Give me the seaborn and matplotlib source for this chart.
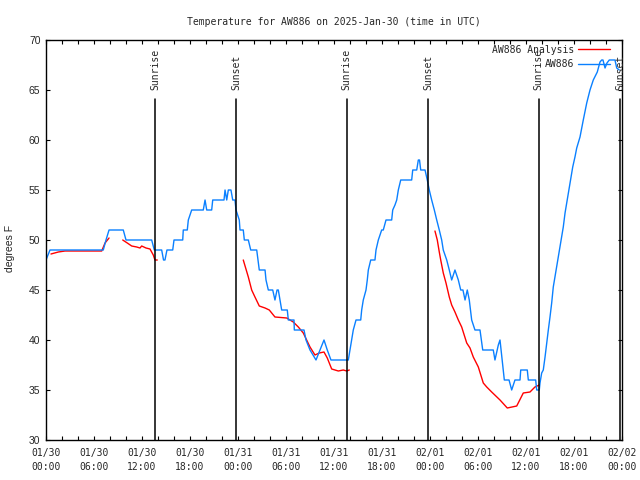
import pandas as pd
import matplotlib
matplotlib.use('Agg')
import matplotlib.pyplot as plt
import matplotlib.dates as mdates
from matplotlib.lines import Line2D
import seaborn as sns

# start of the plotted period (UTC)
start = pd.Timestamp('2025-01-30 00:00')

# AW886 observations: hours since start, temperature (F)
obs_hours = [0.0, 0.5, 7.16, 7.5, 7.88, 9.66, 10.0, 13.21, 13.54, 14.46, 14.69, 14.87, 15.12,
             15.84, 16.0, 17.09, 17.16, 17.66, 17.79, 18.0, 18.21, 19.66, 19.88, 20.09, 20.71,
             20.84, 22.25, 22.38, 22.59, 22.79, 23.12, 23.34, 23.62, 23.75, 24.16, 24.25, 24.66,
             24.79, 25.29, 25.59, 26.34, 26.5, 26.66, 27.38, 27.5, 27.79, 28.34, 28.62, 28.88,
             29.04, 29.25, 29.46, 30.16, 30.29, 31.0, 31.04, 32.25, 32.5, 33.0, 33.75, 34.25,
             34.75, 35.16, 35.62, 37.79, 38.0, 38.21, 38.41, 38.75, 39.34, 39.46, 39.66, 40.0,
             40.16, 40.29, 40.59, 41.12, 41.25, 41.54, 41.96, 42.16, 42.5, 43.21, 43.34, 43.62,
             43.84, 44.04, 44.34, 45.71, 45.84, 46.34, 46.54, 46.69, 46.84, 47.38, 47.66, 47.91,
             48.21, 48.54, 48.84, 49.16, 49.46, 49.66, 50.09, 50.41, 50.71, 51.12, 51.54, 51.84,
             52.12, 52.38, 52.66, 52.91, 53.21, 53.62, 54.25, 54.59, 55.91, 56.12, 56.54, 56.75,
             57.16, 57.29, 57.88, 58.21, 58.62, 59.25, 59.34, 60.16, 60.29, 61.21, 61.34, 61.66,
             61.75, 61.96, 62.16, 62.38, 62.59, 62.79, 63.0, 63.21, 63.41, 63.62, 63.84, 64.04,
             64.25, 64.46, 64.66, 64.88, 65.09, 65.29, 65.5, 65.84, 66.12, 66.34, 66.75, 67.16,
             67.59, 68.0, 68.41, 68.91, 69.25, 69.46, 69.62, 69.88, 70.12, 70.41, 71.12, 71.34,
             71.66]
obs_temp = [48, 49, 49, 50, 51, 51, 50, 50, 49, 49, 48, 48, 49,
            49, 50, 50, 51, 51, 52, 52.5, 53, 53, 54, 53, 53,
            54, 54, 55, 54, 55, 55, 54, 54, 53, 52, 51, 51,
            50, 50, 49, 49, 48, 47, 47, 46, 45, 45, 44, 45,
            45, 44, 43, 43, 42, 42, 41, 41, 40, 39, 38, 39,
            40, 39, 38, 38, 39, 40, 41, 42, 42, 43, 44, 45,
            46, 47, 48, 48, 49, 50, 51, 51, 52, 52, 53, 53.5,
            54, 55, 56, 56, 57, 57, 58, 58, 57, 57, 56, 55,
            54, 53, 52, 51, 50, 49, 48, 47, 46, 47, 46, 45,
            45, 44, 45, 44, 42, 41, 41, 39, 39, 38, 39.5, 40,
            37, 36, 36, 35, 36, 36, 37, 37, 36, 36, 35, 35,
            35.7, 36.7, 37, 38.3, 39.7, 41, 42.3, 43.7, 45.3, 46.3, 47.3, 48.3,
            49.3, 50.3, 51.3, 52.7, 53.7, 54.7, 55.7, 57.3, 58.3, 59.2, 60.3, 62,
            63.7, 65, 66, 66.8, 67.8, 68, 68, 67.2, 67.7, 68, 68, 67.2,
            67]

# AW886 analysis: hours since start, temperature (F), segment id (gaps between segments)
ana_hours = [0.62, 1.54, 2.38, 5.16, 6.25, 6.96, 7.38, 7.88,
             9.59, 10.16, 10.71, 11.34, 11.75, 11.96, 12.5, 13.0, 13.41, 13.62, 13.91,
             24.66, 25.29, 25.71, 26.12, 26.66, 27.38, 27.91, 28.62, 30.09, 30.91, 31.54,
             32.16, 33.0, 33.62, 34.16, 34.75, 35.16, 35.71, 36.54, 37.16, 37.59, 37.91,
             48.62, 48.91, 49.16, 49.34, 49.66, 50.0, 50.41, 50.71, 51.12, 51.54, 51.96,
             52.59, 53.0, 53.41, 54.04, 54.66, 55.09, 55.71, 56.75, 57.66, 58.84, 59.66,
             60.5, 61.12, 61.66]
ana_temp = [48.6, 48.8, 48.9, 48.9, 48.9, 48.9, 49.7, 50.2,
            50.0, 49.7, 49.4, 49.3, 49.2, 49.4, 49.2, 49.1, 48.5, 48.0, 48.0,
            48.0, 46.3, 45.0, 44.3, 43.4, 43.2, 43.0, 42.3, 42.2, 41.8, 41.3,
            40.7, 39.3, 38.5, 38.7, 38.8, 38.2, 37.1, 36.9, 37.0, 36.9, 37.0,
            50.9, 50.0, 48.8, 48.0, 46.7, 45.7, 44.3, 43.5, 42.8, 42.0, 41.3,
            39.7, 39.2, 38.3, 37.3, 35.7, 35.3, 34.8, 34.0, 33.2, 33.4, 34.7,
            34.8, 35.3, 35.5]
ana_seg = [1] * 8 + [2] * 11 + [3] * 22 + [4] * 25

sunrise_hours = [13.62, 37.6, 61.58]
sunset_hours = [23.78, 47.8, 71.75]

obs = pd.DataFrame({'time': start + pd.to_timedelta(obs_hours, unit='h'), 'temp': obs_temp})
ana = pd.DataFrame({'time': start + pd.to_timedelta(ana_hours, unit='h'), 'temp': ana_temp,
                    'seg': ana_seg})

sns.set_style('ticks')
plt.rcParams['font.family'] = ['DejaVu Sans Mono']

fig = plt.figure(figsize=(6.4, 4.8), dpi=100)
ax = fig.add_axes([46 / 640, 40 / 480, 576 / 640, 400 / 480])

red = '#ff0000'
blue = '#0a80ff'
sns.lineplot(data=ana, x='time', y='temp', units='seg', estimator=None, color=red, lw=1, ax=ax)
sns.lineplot(data=obs, x='time', y='temp', estimator=None, color=blue, lw=1, ax=ax)

# sunrise / sunset markers
for name, hrs in [('Sunrise', sunrise_hours), ('Sunset', sunset_hours)]:
    for h in hrs:
        t = start + pd.Timedelta(hours=h)
        ax.plot([t, t], [30, 64.1], color='black', lw=1.1)
        ax.text(t, 64.95, name, rotation=90, ha='center', va='bottom', fontsize=7)

ax.set_xlim(start, start + pd.Timedelta(hours=72))
ax.set_ylim(30, 70)
ax.xaxis.set_major_locator(mdates.HourLocator(byhour=[0, 6, 12, 18]))
ax.xaxis.set_major_formatter(mdates.DateFormatter('%m/%d\n%H:%M'))
ax.xaxis.set_minor_locator(mdates.HourLocator(byhour=range(0, 24, 2)))
ax.set_yticks(range(30, 71, 5))
ax.tick_params(which='both', direction='in', top=True, right=True, length=3, width=0.8,
               labelsize=7, color='black')
ax.tick_params(axis='x', pad=5.5)
ax.tick_params(axis='y', pad=4)
plt.setp(ax.get_yticklabels(), family='Liberation Sans', fontsize=7.5)
plt.setp(ax.get_xticklabels(), linespacing=1.5)
for s in ax.spines.values():
    s.set_color('black')
    s.set_linewidth(1)

ax.set_xlabel('')
ax.set_ylabel('degrees F', family='Liberation Sans', fontsize=7.5)
ax.yaxis.set_label_coords(-(46 - 15) / 576, 0.48)
ax.set_title('Temperature for AW886 on 2025-Jan-30 (time in UTC)', fontsize=7, pad=11)

handles = [Line2D([], [], color=red, lw=1), Line2D([], [], color=blue, lw=1)]
ax.legend(handles, ['AW886 Analysis', 'AW886'], loc='upper right', bbox_to_anchor=(0.986, 0.998),
          markerfirst=False, frameon=False, fontsize=7, handlelength=3.3, handletextpad=0.4,
          labelspacing=0.45, borderaxespad=0.2, borderpad=0.2)

fig.savefig('out.png', dpi=100)
